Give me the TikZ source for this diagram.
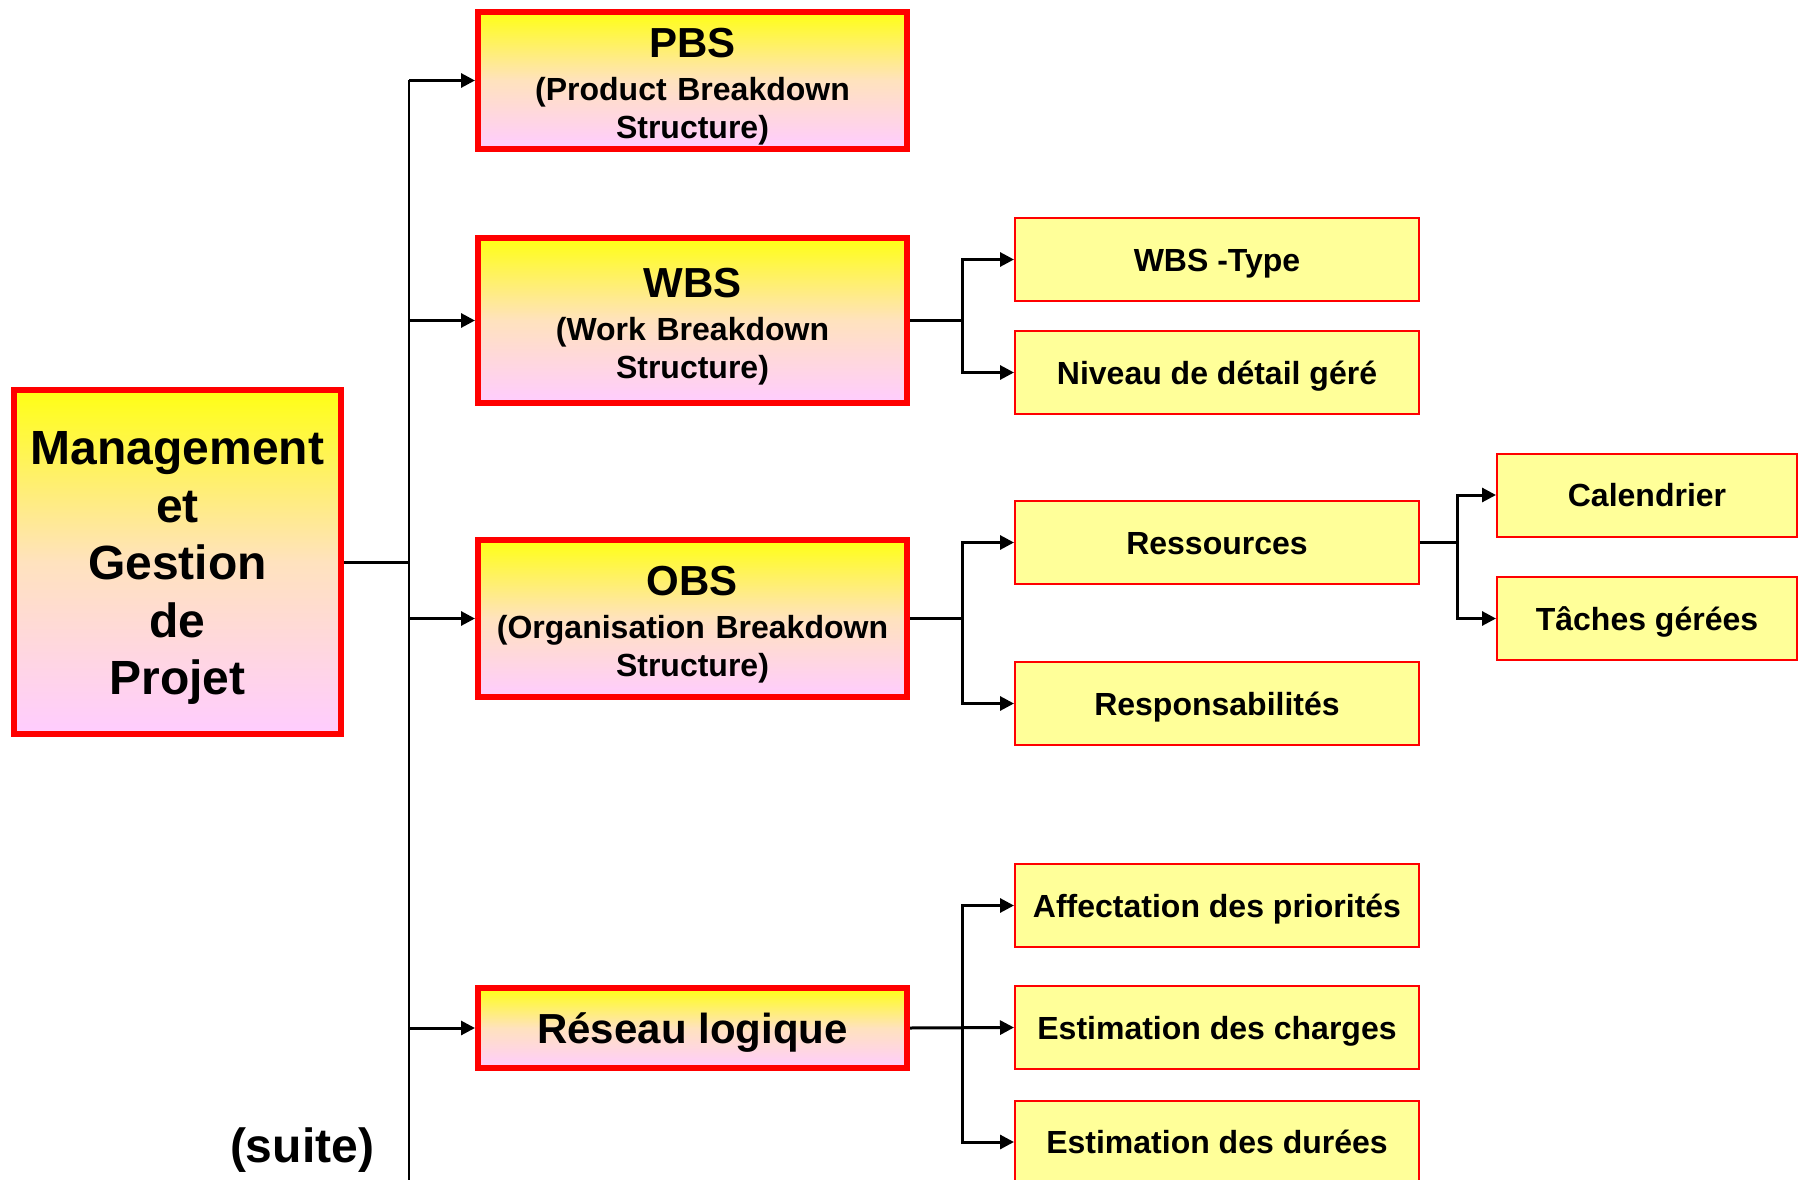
\documentclass[tikz,border=0pt]{standalone}
\usepackage{fontspec}
\setmainfont{Liberation Sans}
\usetikzlibrary{arrows.meta,calc}
\definecolor{byel}{RGB}{255,255,20}
\definecolor{bpink}{RGB}{255,204,255}
\definecolor{bmid}{RGB}{255,226,190}
\definecolor{lyel}{RGB}{255,255,153}
\definecolor{bred}{RGB}{255,0,0}
\newcommand{\titlef}{\fontsize{42}{46}\selectfont}
\newcommand{\subf}{\fontsize{32}{38}\selectfont}
\tikzset{
  bigbox/.style={draw=bred, line width=6pt, top color=byel, bottom color=bpink, middle color=bmid,
    shading=axis, align=center, inner sep=0pt, font=\bfseries},
  threeline/.style={text width=425pt, align=center, font=\bfseries\subf},
  smallbox/.style={draw=bred, line width=2pt, fill=lyel, align=center, inner sep=0pt,
    minimum width=404pt, minimum height=83pt, text height=23pt, text depth=0pt,
    font=\bfseries\fontsize{32}{38}\selectfont},
  conn/.style={line width=3pt, draw=black},
  arr/.style={line width=3pt, draw=black, -{Triangle[length=14pt,width=14pt]}},
}
\begin{document}
\begin{tikzpicture}[x=1pt,y=-1pt]
\clip (0,0) rectangle (1800,1180);
\fill[white] (0,0) rectangle (1800,1180);

% main box
\node[bigbox, minimum width=327pt, minimum height=344pt] (main) at (177.5,562) {};
\node[font=\bfseries\fontsize{48}{57.5}\selectfont, align=center, inner sep=0pt]
  (maintxt) at ([yshift=-6pt]main.center) {Management\\et\\Gestion\\de\\Projet};

% level 1
\node[bigbox, threeline, minimum width=429pt, minimum height=137pt] (pbs) at (692.5,80.5)
  {{\titlef\rule{0pt}{41pt}PBS\par}\vspace{5pt}(Product Breakdown\\Structure)\par};
\node[bigbox, threeline, minimum width=429pt, minimum height=165pt] (wbs) at (692.5,320.5)
  {{\titlef\rule{0pt}{41pt}WBS\par}\vspace{5pt}(Work Breakdown\\Structure)\par};
\node[bigbox, threeline, minimum width=429pt, minimum height=157pt] (obs) at (692.5,618.5)
  {{\titlef\rule{0pt}{41pt}OBS\par}\vspace{5pt}(Organisation Breakdown\\Structure)\par};
\node[bigbox, minimum width=429pt, minimum height=80pt, text height=30pt, text depth=0pt,
  font=\bfseries\fontsize{42}{48}\selectfont]
  (res) at (692.5,1028) {Réseau logique};

% level 2
\node[smallbox] (wtype) at (1217,259.5) {WBS -Type};
\node[smallbox] (niv) at (1217,372.5) {Niveau de détail géré};
\node[smallbox] (ress) at (1217,542.5) {Ressources};
\node[smallbox] (resp) at (1217,703.5) {Responsabilités};
\node[smallbox] (aff) at (1217,905.5) {Affectation des priorités};
\node[smallbox] (ech) at (1217,1027.5) {Estimation des charges};
\node[smallbox] (edur) at (1217,1142) {Estimation des durées};

% level 3
\node[smallbox, minimum width=300pt] (cal) at (1647,495) {Calendrier};
\node[smallbox, minimum width=300pt] (tach) at (1647,618.5) {Tâches gérées};

% suite
\node[font=\bfseries\fontsize{48}{56}\selectfont, inner sep=0pt, text height=35pt, text depth=0pt]
  (suite) at (302,1145) {(suite)};

% connectors
\coordinate (trunk) at (409,0);
\coordinate (b1) at (962,0);
\coordinate (b2) at (1457,0);
\coordinate (trunkbot) at (409,1180);
\draw[line width=2.5pt] (pbs.west -| trunk) -- (trunkbot);
\draw[conn] (main.east) -- (main.east -| trunk);
\draw[arr] (pbs.west -| trunk) -- (pbs.west);
\draw[arr] (wbs.west -| trunk) -- (wbs.west);
\draw[arr] (obs.west -| trunk) -- (obs.west);
\draw[arr] (res.west -| trunk) -- (res.west);

\draw[conn] (wbs.east) -- (wbs.east -| b1);
\draw[arr] (wbs.east -| b1) |- (wtype.west);
\draw[arr] (wbs.east -| b1) |- (niv.west);

\draw[conn] (obs.east) -- (obs.east -| b1);
\draw[arr] (obs.east -| b1) |- (ress.west);
\draw[arr] (obs.east -| b1) |- (resp.west);

\draw[conn] (ress.east) -- (ress.east -| b2);
\draw[arr] (ress.east -| b2) |- (cal.west);
\draw[arr] (ress.east -| b2) |- (tach.west);

\draw[arr] (res.east) -- (ech.west);
\draw[arr] (res.east -| b1) |- (aff.west);
\draw[arr] (res.east -| b1) |- (edur.west);
\end{tikzpicture}
\end{document}
